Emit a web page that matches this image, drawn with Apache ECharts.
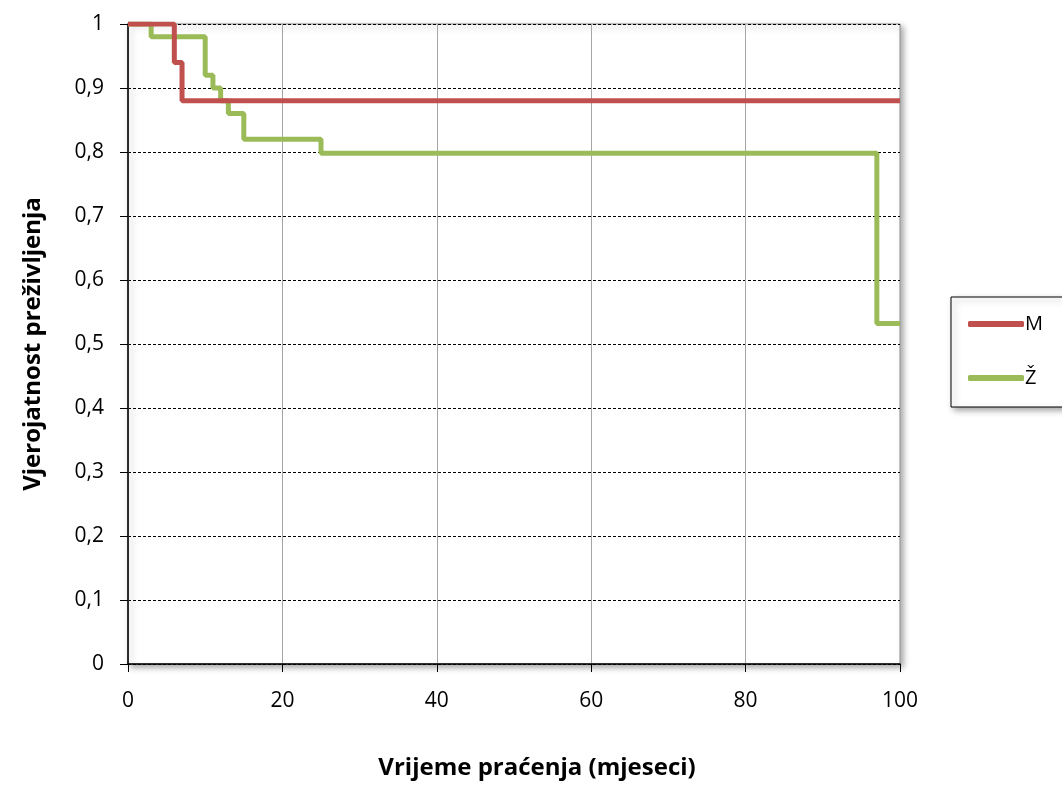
<!DOCTYPE html>
<html>
<head>
<meta charset="utf-8">
<script src="https://cdn.jsdelivr.net/npm/echarts@6/dist/echarts.min.js"></script>
<style>html,body{margin:0;padding:0;background:#fff}#c{width:1062px;height:785px}</style>
</head>
<body>
<div id="c"></div>
<script>
const seriesNames = ['M', 'Ž'];
const mTimes = [0, 6, 7, 100];
const mSurv = [1, 0.94, 0.88, 0.88];
const zTimes = [0, 3, 10, 11, 12, 13, 15, 25, 97, 100];
const zSurv = [1, 0.98, 0.92, 0.90, 0.88, 0.86, 0.82, 0.798, 0.532, 0.532];
const xTicks = [0, 20, 40, 60, 80, 100];
const yTicks = [0, 0.1, 0.2, 0.3, 0.4, 0.5, 0.6, 0.7, 0.8, 0.9, 1];
const xTitle = 'Vrijeme praćenja (mjeseci)';
const yTitle = 'Vjerojatnost preživljenja';

const font = '"Open Sans", "Noto Sans", sans-serif';
const pair = (t, s) => t.map((v, i) => [v, s[i]]);

const chart = echarts.init(document.getElementById('c'), null, {renderer: 'canvas'});
chart.setOption({
  animation: false,
  backgroundColor: '#fff',
  grid: {
    left: 128, right: 162, top: 24, bottom: 121,
    show: true, borderColor: '#8c8c8c', borderWidth: 1,
    backgroundColor: '#fff',
    shadowColor: 'rgba(0,0,0,0.35)', shadowBlur: 6, shadowOffsetX: 3, shadowOffsetY: 3
  },
  legend: {
    orient: 'vertical',
    left: 951, top: 297,
    backgroundColor: '#fff', borderColor: '#000', borderWidth: 1,
    shadowColor: 'rgba(0,0,0,0.35)', shadowBlur: 6, shadowOffsetX: 3, shadowOffsetY: 3,
    padding: [17, 40, 19, 17],
    icon: 'roundRect',
    itemWidth: 56, itemHeight: 6, itemGap: 34,
    textStyle: {fontFamily: font, fontSize: 20, lineHeight: 20, color: '#000', padding: [0, 0, 0, -4]},
    data: seriesNames
  },
  xAxis: {
    type: 'value', min: 0, max: 100, interval: 20,
    name: xTitle, nameLocation: 'middle', nameGap: 92,
    nameTextStyle: {fontFamily: font, fontSize: 24, fontWeight: 'bold', color: '#000', padding: [0, 0, 0, 46]},
    axisLine: {show: true, lineStyle: {color: '#000', width: 1.5}},
    axisTick: {show: true, inside: false, length: 8, lineStyle: {color: '#000'}},
    axisLabel: {fontFamily: font, fontSize: 21, color: '#000', margin: 27,
      formatter: v => xTicks.includes(v) ? String(v) : ''},
    splitLine: {show: true, lineStyle: {color: '#a6a6a6', width: 1}}
  },
  yAxis: {
    type: 'value', min: 0, max: 1, interval: 0.1,
    name: yTitle, nameLocation: 'middle', nameGap: 83,
    nameTextStyle: {fontFamily: font, fontSize: 24, fontWeight: 'bold', color: '#000'},
    axisLine: {show: true, lineStyle: {color: '#000', width: 1.5}},
    axisTick: {show: true, inside: false, length: 8, lineStyle: {color: '#000'}},
    axisLabel: {fontFamily: font, fontSize: 21, color: '#000', margin: 24,
      formatter: v => {
        const t = yTicks.find(x => Math.abs(x - v) < 1e-6);
        if (t === undefined) return '';
        return t === 0 ? '0' : t === 1 ? '1' : t.toFixed(1).replace('.', ',');
      }},
    splitLine: {show: true, lineStyle: {color: '#000', width: 1, type: [3, 2]}}
  },
  series: [
    {name: seriesNames[0], type: 'line', step: 'end', symbol: 'none',
      lineStyle: {color: '#C0504D', width: 5}, itemStyle: {color: '#C0504D'},
      data: pair(mTimes, mSurv), z: 3},
    {name: seriesNames[1], type: 'line', step: 'end', symbol: 'none',
      lineStyle: {color: '#9BBB59', width: 5}, itemStyle: {color: '#9BBB59'},
      data: pair(zTimes, zSurv), z: 2}
  ]
});
</script>
</body>
</html>
